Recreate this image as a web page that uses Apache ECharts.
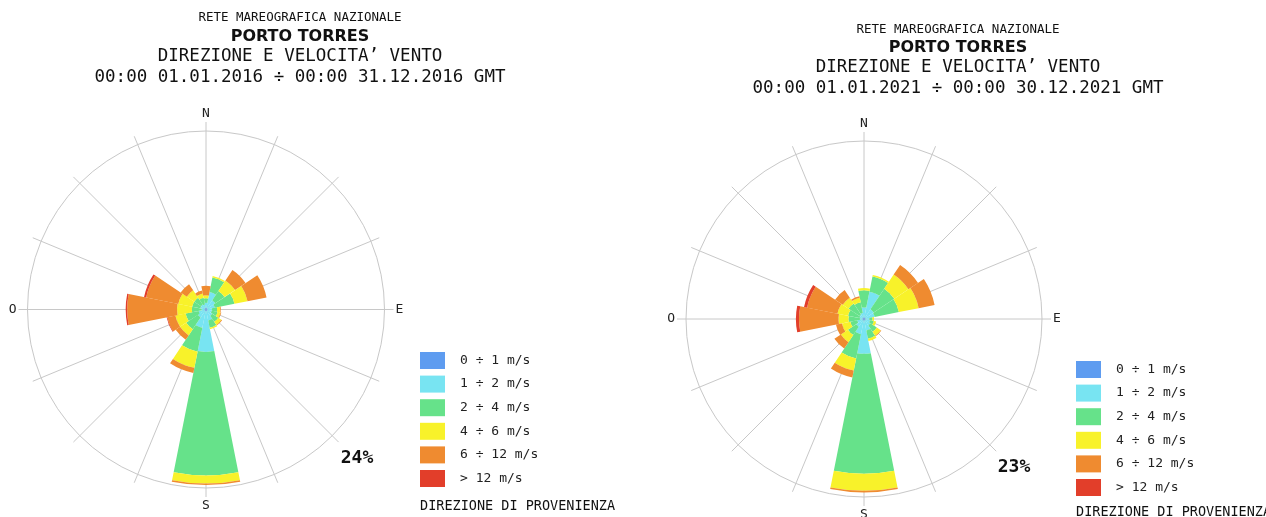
<!DOCTYPE html>
<html>
<head>
<meta charset="utf-8">
<script src="https://cdn.jsdelivr.net/npm/echarts@6/dist/echarts.min.js"></script>
<style>
html,body{margin:0;padding:0;background:#fff;}
#c{width:1266px;height:517px;}
</style>
</head>
<body>
<div id="c"></div>
<script>
// ---- data ----
const directions = ['N','NNE','NE','ENE','E','ESE','SE','SSE','S','SSW','SW','WSW','W','WNW','NW','NNW'];
const speedClasses = ['0 ÷ 1 m/s','1 ÷ 2 m/s','2 ÷ 4 m/s','4 ÷ 6 m/s','6 ÷ 12 m/s','> 12 m/s'];
const compassLabels = {0:'N', 90:'E', 180:'S', 270:'O'};

// 2016 frequencies (%) per speed class, per direction (N .. NNW)
const y2016_0_1  = [0.2,0.2,0.2,0.2,0.2,0.2,0.2,0.2,0.2,0.2,0.2,0.2,0.2,0.2,0.2,0.2];
const y2016_1_2  = [0.7,2.2,1.3,1.0,0.6,0.6,0.8,1.3,5.5,2.3,1.1,0.8,0.4,0.6,0.6,0.5];
const y2016_2_4  = [0.6,2.0,1.5,2.7,0.7,0.8,1.0,1.0,16.6,3.3,1.9,1.8,1.3,1.1,1.1,0.9];
const y2016_4_6  = [0.4,0.2,1.7,1.8,0.4,0.4,0.5,0.2,1.1,2.2,1.0,1.4,2.0,1.9,1.2,0.6];
const y2016_6_12 = [1.3,0.0,1.7,2.6,0.1,0.1,0.1,0.0,0.2,0.7,0.7,1.1,6.7,4.4,1.0,0.4];
const y2016_12   = [0.0,0.0,0.0,0.0,0.0,0.0,0.0,0.0,0.0,0.0,0.0,0.1,0.2,0.3,0.0,0.0];

// 2021 frequencies (%)
const y2021_0_1  = [0.2,0.2,0.2,0.2,0.2,0.2,0.2,0.2,0.2,0.2,0.2,0.2,0.2,0.2,0.2,0.2];
const y2021_1_2  = [1.3,3.4,1.3,1.2,0.5,0.6,0.8,1.3,4.3,1.8,1.0,0.7,0.3,0.4,0.5,0.6];
const y2021_2_4  = [2.2,2.0,3.2,3.2,0.4,0.5,1.0,1.1,15.5,3.2,1.3,0.9,1.5,1.5,1.7,1.4];
const y2021_4_6  = [0.3,0.2,2.2,2.6,0.2,0.3,0.6,0.3,2.2,1.6,1.1,1.1,1.3,1.4,0.9,0.6];
const y2021_6_12 = [0.0,0.0,1.5,2.1,0.0,0.0,0.1,0.0,0.2,0.9,1.0,0.8,5.1,4.0,1.2,0.2];
const y2021_12   = [0.0,0.0,0.0,0.0,0.0,0.0,0.0,0.0,0.0,0.0,0.0,0.0,0.4,0.4,0.0,0.0];

const maxPct2016 = 24;
const maxPct2021 = 23;

const titleLines2016 = ['RETE MAREOGRAFICA NAZIONALE','PORTO TORRES','DIREZIONE E VELOCITA\u2019 VENTO','00:00 01.01.2016 ÷ 00:00 31.12.2016 GMT'];
const titleLines2021 = ['RETE MAREOGRAFICA NAZIONALE','PORTO TORRES','DIREZIONE E VELOCITA\u2019 VENTO','00:00 01.01.2021 ÷ 00:00 30.12.2021 GMT'];
const footer = 'DIREZIONE DI PROVENIENZA';

// ---- styling ----
const colors = ['#5e9cf0','#78e4f2','#66e28a','#f8f22a','#ef8b30','#e23e2a'];
const MONO = '"DejaVu Sans Mono", "Liberation Mono", monospace';
const gridColor = '#c8c8c8';

const charts = [
  {data:[y2016_0_1,y2016_1_2,y2016_2_4,y2016_4_6,y2016_6_12,y2016_12], max:maxPct2016, cx:206, cy:309.5, r:178.5, title:titleLines2016, tx:300, ty:[18,37,56,77], pct:[357,458], legend:[420,352], foot:[420,506]},
  {data:[y2021_0_1,y2021_1_2,y2021_2_4,y2021_4_6,y2021_6_12,y2021_12], max:maxPct2021, cx:864, cy:319, r:178, title:titleLines2021, tx:958, ty:[30,48,67,88], pct:[1014,467], legend:[1076,361], foot:[1076,512]}
];

const polar=[], angleAxis=[], radiusAxis=[], series=[], legend=[], graphic=[];
charts.forEach((c,ci)=>{
  // spokes polar
  const pA = polar.length;
  polar.push({center:[c.cx,c.cy], radius:c.r+9});
  angleAxis.push({polarIndex:pA, type:'value', min:0, max:360, interval:22.5, startAngle:90, clockwise:true,
    axisLine:{show:false}, axisTick:{show:false},
    splitLine:{show:true, lineStyle:{color:gridColor, width:1}},
    axisLabel:{show:true, margin:2, color:'#222', fontFamily:MONO, fontSize:13,
      formatter:(v)=> compassLabels[v] !== undefined && v!==360 ? compassLabels[v] : ''}});
  radiusAxis.push({polarIndex:pA, type:'value', min:0, max:1, show:false, splitLine:{show:false}, axisLine:{show:false}});
  // bars polar
  const pB = polar.length;
  polar.push({center:[c.cx,c.cy], radius:c.r});
  angleAxis.push({polarIndex:pB, type:'category', data:directions, startAngle:90+11.25, clockwise:true,
    boundaryGap:true,
    axisLine:{show:true, lineStyle:{color:gridColor, width:1}}, axisTick:{show:false}, axisLabel:{show:false},
    splitLine:{show:false}});
  radiusAxis.push({polarIndex:pB, type:'value', min:0, max:c.max, axisLine:{show:false}, axisTick:{show:false}, axisLabel:{show:false}, splitLine:{show:false}});
  c.data.forEach((arr,k)=>{
    series.push({type:'bar', name:speedClasses[k], coordinateSystem:'polar', polarIndex:pB, stack:'s'+ci,
      data:arr, barCategoryGap:'0%', roundCap:false,
      itemStyle:{color:colors[k], borderRadius:0, borderWidth:0}, animation:false, silent:true});
  });
  legend.push({show:true, data:speedClasses, orient:'vertical', left:c.legend[0], top:c.legend[1], padding:0,
    itemWidth:25, itemHeight:17, itemGap:6.6, icon:'rect', selectedMode:false,
    textStyle:{fontFamily:MONO, fontSize:13, color:'#222', padding:[0,0,0,10]}});
  // titles
  c.title.forEach((t,i)=>{
    const font = i===1 ? {fontFamily:'"DejaVu Sans", sans-serif', fontWeight:'bold', fontSize:16}
               : i===0 ? {fontFamily:MONO, fontSize:12.5} : {fontFamily:MONO, fontSize:17.5};
    graphic.push({type:'text', x:c.tx, y:c.ty[i], style:Object.assign({text:t, fill:'#111', textAlign:'center', textVerticalAlign:'middle'}, font)});
  });
  graphic.push({type:'text', x:c.pct[0], y:c.pct[1], style:{text:c.max+'%', fill:'#111', textAlign:'center', textVerticalAlign:'middle', fontFamily:MONO, fontWeight:'bold', fontSize:18}});
  graphic.push({type:'text', x:c.foot[0], y:c.foot[1], style:{text:footer, fill:'#111', textAlign:'left', textVerticalAlign:'middle', fontFamily:MONO, fontSize:13.5}});
});

const chart = echarts.init(document.getElementById('c'), null, {renderer:'canvas'});
chart.setOption({backgroundColor:'#fff', animation:false, polar, angleAxis, radiusAxis, series, legend, graphic});
</script>
</body>
</html>
